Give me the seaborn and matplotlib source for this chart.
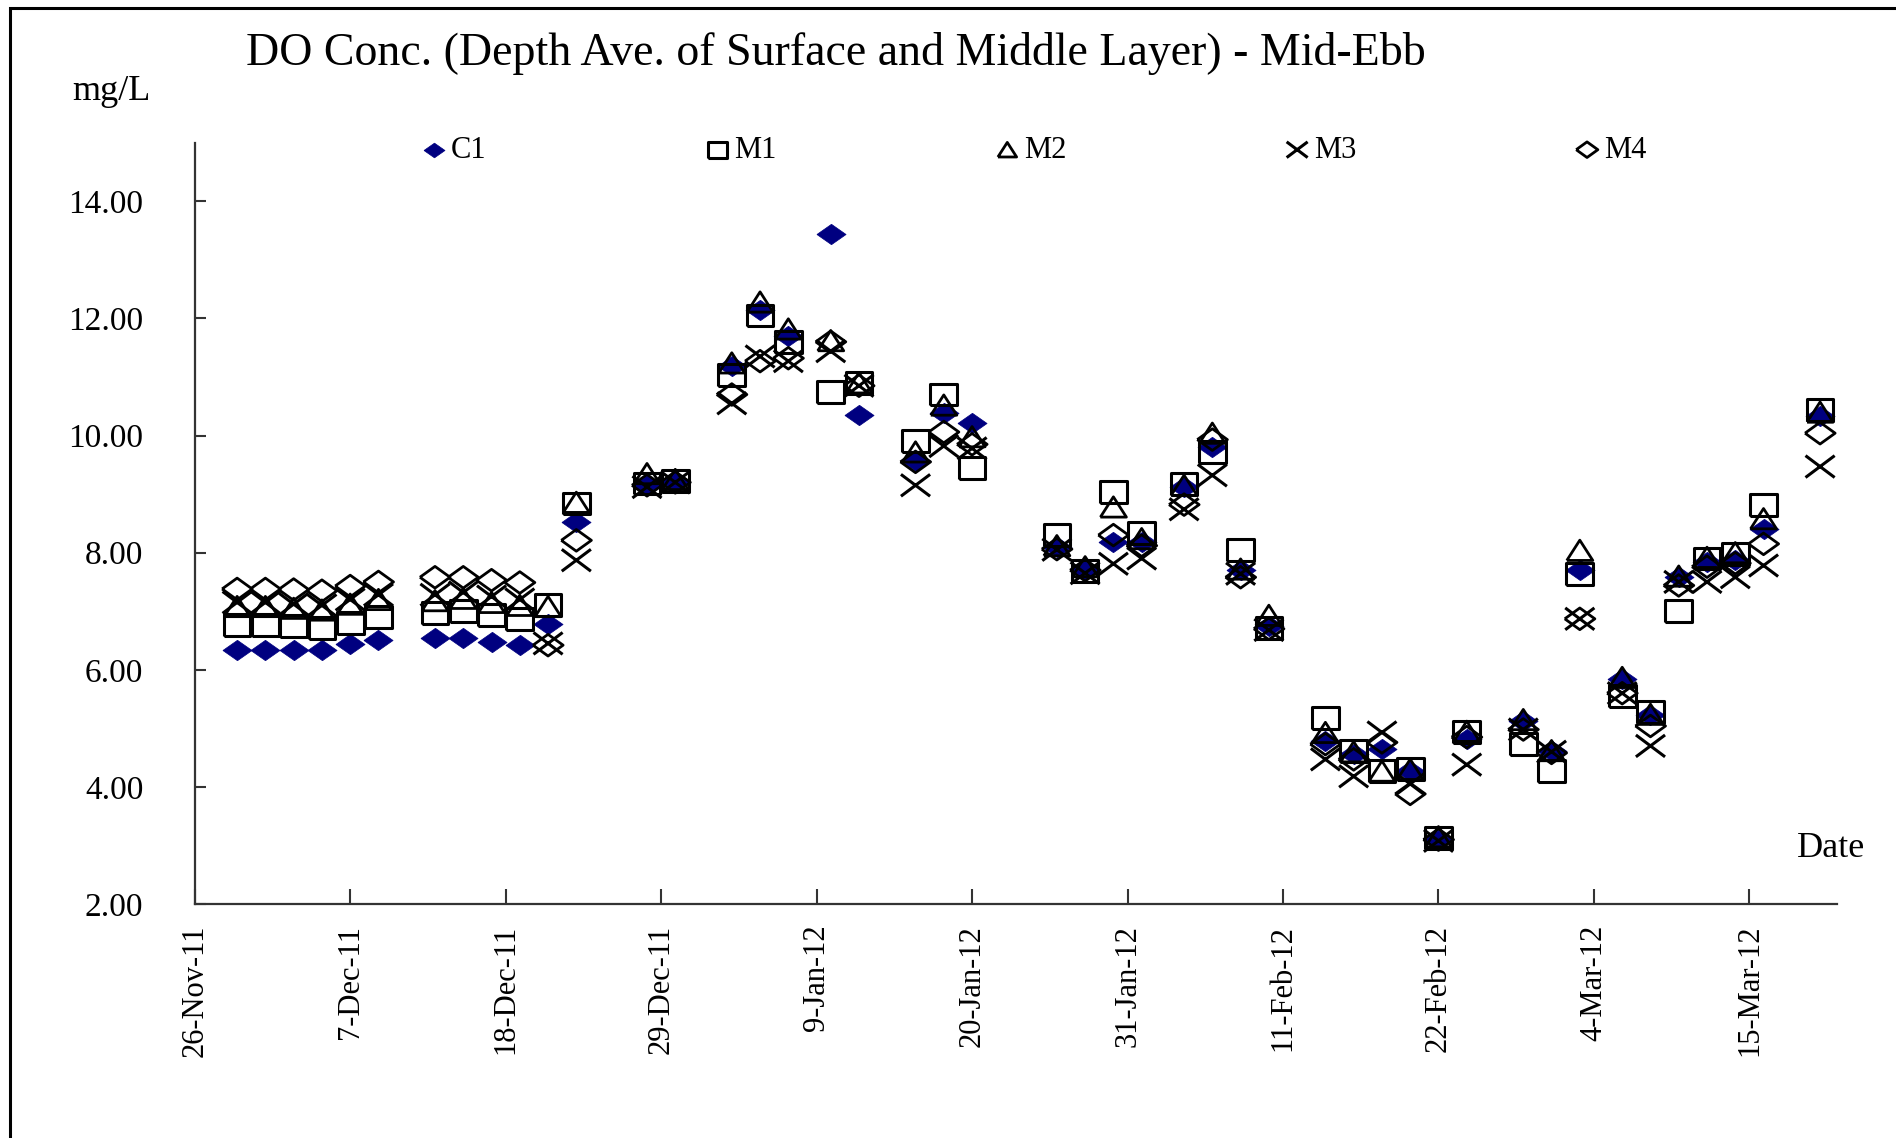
import numpy as np
import pandas as pd
import matplotlib
matplotlib.use("Agg")
import matplotlib.pyplot as plt
from matplotlib.path import Path
from matplotlib.patches import Rectangle
import seaborn as sns

# Sampling dates (mid-ebb surveys)
sample_dates = [
    "2011-11-29", "2011-12-01", "2011-12-03", "2011-12-05", "2011-12-07", "2011-12-09",
    "2011-12-13", "2011-12-15", "2011-12-17", "2011-12-19", "2011-12-21", "2011-12-23",
    "2011-12-28", "2011-12-30", "2012-01-03", "2012-01-05", "2012-01-07", "2012-01-10",
    "2012-01-12", "2012-01-16", "2012-01-18", "2012-01-20", "2012-01-26", "2012-01-28",
    "2012-01-30", "2012-02-01", "2012-02-04", "2012-02-06", "2012-02-08", "2012-02-10",
    "2012-02-14", "2012-02-16", "2012-02-18", "2012-02-20", "2012-02-22", "2012-02-24",
    "2012-02-28", "2012-03-01", "2012-03-03", "2012-03-06", "2012-03-08", "2012-03-10",
    "2012-03-12", "2012-03-14", "2012-03-16", "2012-03-20",
]

# Depth-averaged DO (mg/L) per station
c1 = [6.33, 6.33, 6.33, 6.34, 6.44, 6.50, 6.54, 6.54, 6.48, 6.42, 6.78, 8.53,
      9.15, 9.22, 11.18, 12.15, 11.70, 13.44, 10.35, 9.57, 10.38, 10.22, 8.10, 7.70,
      8.18, 8.18, 9.12, 9.80, 7.70, 6.75, 4.79, 4.56, 4.64, 4.27, 3.10, 4.82,
      5.13, 4.61, 7.70, 5.84, 5.22, 7.58, 7.84, 7.87, 8.41, 10.33]
m1 = [6.77, 6.77, 6.74, 6.71, 6.80, 6.90, 6.97, 7.01, 6.94, 6.87, 7.11, 8.84,
      9.18, 9.22, 11.04, 12.05, 11.60, 10.75, 10.90, 9.90, 10.70, 9.45, 8.30, 7.68,
      9.04, 8.33, 9.17, 9.72, 8.04, 6.72, 5.18, 4.62, 4.27, 4.30, 3.12, 4.93,
      4.73, 4.27, 7.64, 5.55, 5.28, 7.01, 7.90, 7.98, 8.82, 10.44]
m2 = [7.08, 7.08, 7.05, 7.02, 7.12, 7.20, 7.18, 7.22, 7.15, 7.10, 7.08, 8.86,
      9.35, 9.25, 11.24, 12.28, 11.82, 11.62, 10.90, 9.72, 10.52, 9.98, 8.12, 7.76,
      8.78, 8.24, 9.15, 10.04, 7.72, 6.93, 4.93, 4.60, 4.27, 4.30, 3.15, 4.95,
      5.15, 4.62, 8.04, 5.87, 5.24, 7.60, 7.92, 8.00, 8.58, 10.40]
m3 = [7.15, 7.15, 7.12, 7.10, 7.20, 7.28, 7.28, 7.32, 7.25, 7.20, 6.45, 7.87,
      9.12, 9.20, 10.55, 11.35, 11.27, 11.44, 10.85, 9.15, 9.82, 9.78, 8.05, 7.65,
      7.81, 7.90, 8.74, 9.32, 7.64, 6.68, 4.47, 4.18, 4.93, 4.05, 3.08, 4.38,
      4.98, 4.60, 6.87, 5.60, 4.70, 7.50, 7.50, 7.58, 7.78, 9.47]
m4 = [7.38, 7.38, 7.37, 7.35, 7.43, 7.50, 7.58, 7.58, 7.53, 7.49, 6.42, 8.21,
      9.15, 9.20, 10.70, 11.27, 11.32, 11.60, 10.85, 9.55, 10.06, 9.85, 8.06, 7.70,
      8.30, 8.12, 8.82, 9.93, 7.58, 6.70, 4.73, 4.47, 4.76, 3.88, 3.10, 4.85,
      4.98, 4.58, 6.87, 5.60, 5.04, 7.44, 7.76, 7.82, 8.15, 10.04]

stations = ["C1", "M1", "M2", "M3", "M4"]

tick_dates = ["2011-11-26", "2011-12-07", "2011-12-18", "2011-12-29", "2012-01-09",
              "2012-01-20", "2012-01-31", "2012-02-11", "2012-02-22", "2012-03-04",
              "2012-03-15"]
tick_labels = ["26-Nov-11", "7-Dec-11", "18-Dec-11", "29-Dec-11", "9-Jan-12",
               "20-Jan-12", "31-Jan-12", "11-Feb-12", "22-Feb-12", "4-Mar-12",
               "15-Mar-12"]
y_ticks = [2, 4, 6, 8, 10, 12, 14]
y_tick_labels = [f"{v:.2f}" for v in y_ticks]

sns.set_theme(style="ticks")
plt.rcParams["font.family"] = ["Liberation Serif", "DejaVu Serif"]
plt.rcParams["text.color"] = "black"
plt.rcParams["axes.labelcolor"] = "black"

df = pd.DataFrame({"Date": pd.to_datetime(sample_dates),
                   "C1": c1, "M1": m1, "M2": m2, "M3": m3, "M4": m4})
long_df = df.melt(id_vars="Date", var_name="Station", value_name="DO")

# Marker shapes (slightly wider than tall)
diamond_c1 = [(-1, 0), (0, 0.7), (1, 0), (0, -0.7), (-1, 0)]
square = [(-1, -0.82), (1, -0.82), (1, 0.82), (-1, 0.82), (-1, -0.82)]
triangle = [(-1, -0.78), (1, -0.78), (0, 0.78), (-1, -0.78)]
cross = Path([(-1, -0.75), (1, 0.75), (-1, 0.75), (1, -0.75)],
             [Path.MOVETO, Path.LINETO, Path.MOVETO, Path.LINETO])
diamond_m4 = [(-1, 0), (0, 0.72), (1, 0), (0, -0.72), (-1, 0)]

styles = {
    "C1": dict(marker=diamond_c1, s=440, color="#000080", edgecolor="#000080", linewidth=0.5),
    "M1": dict(marker=square, s=370, facecolor="none", edgecolor="black", linewidth=2.2),
    "M2": dict(marker=triangle, s=350, facecolor="none", edgecolor="black", linewidth=2.0),
    "M3": dict(marker=cross, s=440, facecolor="none", edgecolor="black", linewidth=2.2),
    "M4": dict(marker=diamond_m4, s=470, facecolor="none", edgecolor="black", linewidth=2.0),
}

fig = plt.figure(figsize=(18.96, 11.38), dpi=100)
ax = fig.add_axes([0.1027, 0.2056, 0.8662, 0.669])

for st in stations:
    sub = long_df[long_df["Station"] == st]
    sns.scatterplot(data=sub, x="Date", y="DO", ax=ax, label=st, legend=False, **styles[st])

x_start = pd.Timestamp("2011-11-26")
ax.set_xlim(x_start, x_start + pd.Timedelta(days=116.2))
ax.set_ylim(2, 15)

ax.set_xticks(pd.to_datetime(tick_dates))
ax.set_xticklabels(tick_labels, rotation=90, fontsize=22)
ax.set_yticks(y_ticks)
ax.set_yticklabels(y_tick_labels, fontsize=24)
ax.set_xlabel("")
ax.set_ylabel("")

ax.tick_params(axis="x", direction="in", length=11, width=1.5, pad=15, colors="#333333",
               labelcolor="black")
ax.tick_params(axis="y", direction="in", length=8, width=1.5, pad=37, colors="#333333",
               labelcolor="black")
for side in ["top", "right"]:
    ax.spines[side].set_visible(False)
for side in ["left", "bottom"]:
    ax.spines[side].set_color("#333333")
    ax.spines[side].set_linewidth(1.6)
ax.grid(False)

handles, labels = ax.get_legend_handles_labels()
ax.legend(handles, labels, loc="center left", bbox_to_anchor=(0.2226, 0.868),
          bbox_transform=fig.transFigure, ncol=5, frameon=False, markerscale=0.72,
          handlelength=0.8, handletextpad=0.15, columnspacing=7.15, borderpad=0,
          borderaxespad=0, fontsize=22, scatterpoints=1)

fig.text(0.4407, 0.953, "DO Conc. (Depth Ave. of Surface and Middle Layer) - Mid-Ebb",
         ha="center", va="center", fontsize=33)
fig.text(0.0587, 0.920, "mg/L", ha="center", va="center", fontsize=26)
fig.text(0.9655, 0.2543, "Date", ha="center", va="center", fontsize=26)

# Outer chart border
fig.add_artist(Rectangle((0.0052, -0.2), 1.5, 1.2 - 0.007, transform=fig.transFigure,
                         fill=False, edgecolor="black", linewidth=2.2))

fig.savefig("out.png", dpi=100)
